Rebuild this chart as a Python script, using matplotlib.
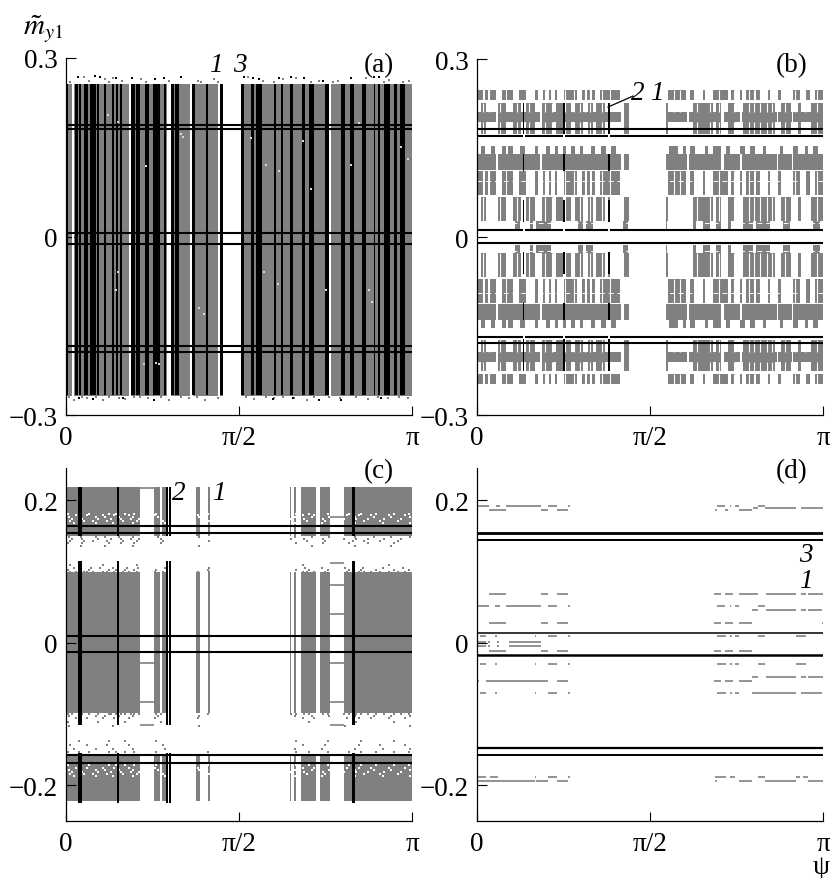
import numpy as np
import matplotlib
matplotlib.use("Agg")
from matplotlib import pyplot as plt

plt.rcParams["font.family"] = ["Liberation Serif", "DejaVu Serif"]
plt.rcParams["mathtext.fontset"] = "stix"

GRAY = "#808080"
FS = 19.5
STEP = np.pi / 1038

# panel (a)
a_gray = [(0, 472), (525, 1038)]
a_white = [(18, 25), (188, 195), (303, 315), (373, 380), (455, 463), (788, 796)]
a_black = [(0, 7), (28, 35), (40, 45), (54, 67), (71, 89), (94, 99), (113, 119), (138, 143),
           (149, 155), (163, 169), (195, 207), (211, 223), (236, 248), (262, 281), (294, 300),
           (316, 323), (328, 340), (379, 387), (419, 427), (463, 472), (525, 533), (555, 563),
           (570, 589), (623, 631), (645, 651), (673, 680), (708, 718), (728, 743), (778, 790),
           (825, 838), (853, 863), (889, 901), (923, 928), (936, 941), (953, 971), (983, 993),
           (1003, 1017)]
a_lines = [0.188, 0.180, 0.0067, -0.0123, -0.184, -0.194]
a_top_black = [35, 86, 101, 150, 198, 266, 295, 345, 535, 560, 580, 640, 675, 715, 770, 855, 925, 940]
a_top_black_y = [0.268, 0.269, 0.268, 0.266, 0.267, 0.264, 0.266, 0.268, 0.268, 0.266, 0.265,
                 0.266, 0.268, 0.266, 0.262, 0.266, 0.268, 0.268]
a_top_gray = [12, 55, 70, 118, 128, 140, 168, 225, 240, 310, 345, 395, 405, 445, 455, 545, 590,
              625, 650, 690, 735, 760, 800, 815, 900, 955, 970, 1010, 1030]
a_top_gray_y = [0.259, 0.268, 0.261, 0.264, 0.260, 0.266, 0.262, 0.264, 0.259, 0.262, 0.268, 0.261,
                0.259, 0.264, 0.260, 0.268, 0.262, 0.260, 0.264, 0.266, 0.260, 0.262, 0.259, 0.261,
                0.266, 0.260, 0.263, 0.259, 0.262]
a_bot_gray = [8, 25, 48, 62, 90, 112, 130, 158, 176, 205, 222, 245, 285, 310, 345, 370, 392, 418,
              455, 540, 565, 600, 625, 650, 685, 722, 745, 790, 822, 870, 905, 935, 965, 1000, 1025]
a_bot_gray_y = [-0.270, -0.274, -0.269, -0.272, -0.270, -0.275, -0.269, -0.271, -0.273, -0.270,
                -0.269, -0.272, -0.270, -0.274, -0.269, -0.271, -0.270, -0.274, -0.272, -0.269,
                -0.273, -0.270, -0.272, -0.269, -0.271, -0.274, -0.270, -0.269, -0.272, -0.270,
                -0.273, -0.269, -0.271, -0.270, -0.272]
a_bot_black = [40, 80, 170, 265, 620, 680, 760, 825, 945]
a_bot_black_y = [-0.272, -0.273, -0.272, -0.275, -0.273, -0.272, -0.274, -0.275, -0.272]
a_speck_x = [155, 155, 125, 240, 345, 350, 555, 600, 640, 710, 735, 855, 880, 1005, 1025,
             155, 150, 400, 415, 595, 635, 780, 910, 918, 235, 270, 280]
a_speck_y = [0.180, 0.192, 0.205, 0.118, 0.172, 0.168, 0.165, 0.120, 0.110, 0.160, 0.080, 0.120, 0.190,
             0.150, 0.130, -0.060, -0.090, -0.120, -0.130, -0.060, -0.080, -0.090, -0.090, -0.110,
             -0.215, -0.212, -0.214]

# panel (b), upper half is mirrored for the lower one
b_core = [(0, 56), (63, 188), (196, 433), (440, 455), (568, 631), (636, 733), (740, 788),
          (796, 900), (903, 946), (948, 1038)]
b_comb1 = [(0, 18), (23, 33), (38, 56), (76, 86), (90, 108), (126, 146), (173, 183), (198, 206),
           (216, 223), (233, 240), (260, 300), (316, 323), (330, 338), (346, 354), (368, 398),
           (403, 428), (573, 628), (638, 650), (678, 685), (708, 716), (718, 753), (763, 773),
           (788, 796), (808, 833), (838, 848), (873, 880), (903, 913), (948, 968), (988, 998),
           (1013, 1038)]
b_comb2 = [(13, 28), (63, 88), (108, 133), (148, 173), (196, 228), (238, 258), (268, 283),
           (293, 318), (333, 348), (358, 383), (393, 398), (440, 455), (568, 573), (648, 708),
           (718, 733), (753, 773), (798, 893), (913, 943), (963, 973), (1003, 1038)]
b_comb3 = [(13, 23), (43, 53), (76, 86), (93, 108), (128, 143), (173, 183), (208, 218), (233, 243),
           (258, 268), (283, 293), (308, 318), (343, 353), (373, 388), (403, 418), (576, 603),
           (618, 628), (638, 653), (683, 693), (708, 733), (748, 758), (788, 803), (818, 833),
           (858, 868), (908, 918), (948, 963), (983, 993), (1008, 1023)]
b_sparse = [(113, 128), (158, 168), (178, 223), (303, 318), (328, 348), (438, 453), (568, 571),
            (648, 658), (678, 698), (718, 733), (753, 763), (798, 828), (838, 878), (918, 938),
            (1008, 1028)]
b_rows = [(0.231, 0.248, b_comb1), (0.174, 0.226, b_comb2), (0.194, 0.211, b_core),
          (0.113, 0.140, b_core), (0.140, 0.154, b_comb3), (0.071, 0.112, b_comb1),
          (0.027, 0.067, b_comb2), (0.014, 0.027, b_sparse)]
b_cut_rows = [(0.231, 0.248), (0.211, 0.226), (0.174, 0.194), (0.071, 0.112), (0.027, 0.067)]
b_cuts = [17, 36, 70, 120, 155, 205, 225, 265, 290, 310, 325, 340, 375, 590, 610, 660, 700, 725,
          770, 815, 830, 850, 870, 885, 925, 955, 985, 1020]
b_black = [(137, 142), (259, 264), (392, 398)]
b_black_y = [(0.172, 0.226), (0.111, 0.140), (0.026, 0.063)]
b_lines = [0.1815, 0.170, 0.011, -0.010, -0.169, -0.179]
b_white_y = [0.095, -0.095, 0.024, -0.024]

# panel (c)
c_gray = [(0, 223), (263, 281), (287, 300), (391, 403), (425, 433), (671, 675), (683, 691),
          (705, 751), (763, 791), (833, 1038)]
c_solid_y = [(0.181, 0.219), (0.150, 0.181), (-0.099, 0.099), (-0.170, -0.158), (-0.222, -0.170)]
c_rung_a = (223, 263)
c_rung_a_y = [0.2175, -0.028, -0.083, -0.115]
c_rung_b = (791, 833)
c_rung_b_y = [0.177, 0.112, 0.082, 0.040, -0.028, -0.083, -0.115]
c_black = [(37, 48), (153, 159), (300, 306), (310, 315), (859, 866)]
c_black_y = [(0.150, 0.219), (-0.115, 0.115), (-0.225, -0.155)]
c_lines = [0.164, 0.155, 0.0103, -0.0131, -0.158, -0.168]
c_specks1 = [5, 18, 40, 48, 70, 95, 128, 135, 150, 165, 178, 195, 205, 220, 270, 285, 425, 675, 690,
             715, 730, 770, 785, 835, 850, 870, 885, 905, 930, 955, 985, 1005, 1030]
c_specks2 = [12, 30, 55, 62, 82, 110, 122, 145, 172, 188, 212, 268, 292, 395, 430, 710, 722, 745, 778,
             842, 860, 878, 895, 915, 942, 968, 995, 1018]
c_specks3 = [8, 24, 45, 75, 90, 102, 118, 140, 160, 183, 200, 216, 275, 298, 398, 428, 688, 718, 738,
             768, 788, 838, 868, 890, 925, 950, 975, 1012, 1033]
c_gray_rows = [(0.149, c_specks3[::2]), (0.146, c_specks1[1::2]), (0.143, c_specks2[::2]),
               (0.140, c_specks1[::3]), (0.136, c_specks3[2::4]), (0.0995, c_specks2),
               (0.102, c_specks1[::2]), (0.105, c_specks3[1::2]), (0.109, c_specks2[::5]),
               (-0.100, c_specks1), (-0.103, c_specks3[::2]), (-0.106, c_specks2[1::2]),
               (-0.111, c_specks1[::5]), (-0.116, c_specks3[::7]), (-0.157, c_specks2),
               (-0.153, c_specks1[::2]), (-0.149, c_specks3[1::3]), (-0.144, c_specks2[::3]),
               (-0.138, c_specks1[2::4])]
c_white_rows = [(0.181, c_specks1[::2]), (0.179, c_specks2[1::2]), (0.177, c_specks3[::2]),
                (0.174, c_specks1[1::2]), (0.171, c_specks2[::2]), (0.168, c_specks3[1::3]),
                (-0.172, c_specks1[::2]), (-0.175, c_specks2[1::2]), (-0.178, c_specks3[::2]),
                (-0.181, c_specks1[1::2]), (-0.184, c_specks2[::2]), (-0.187, c_specks3[1::3])]

# panel (d)
d_rows = [
    (0.192, [(0, 35), (56, 68), (86, 193), (213, 240), (273, 278), (720, 743), (758, 763), (773, 786), (843, 863)]),
    (0.186, [(35, 86), (193, 213), (240, 273), (713, 720), (743, 753), (786, 826)]),
    (0.190, [(828, 843), (863, 958), (973, 993), (993, 1038)]),
    (0.0683, [(35, 86), (193, 213), (240, 273), (711, 733), (743, 768), (786, 843), (868, 958), (973, 988), (993, 1038)]),
    (0.052, [(0, 35), (53, 68), (86, 193), (213, 240), (273, 278), (720, 743), (758, 763), (773, 786), (843, 863)]),
    (0.0463, [(826, 843), (868, 958), (973, 988), (993, 1035)]),
    (0.0276, [(35, 86), (193, 213), (240, 273), (711, 733), (743, 768), (786, 826), (1035, 1038)]),
    (0.0098, [(8, 26), (53, 61), (173, 178), (213, 240), (273, 278), (720, 746), (758, 765), (773, 786), (843, 863), (958, 988)]),
    (0.0014, [(0, 26), (33, 40), (60, 66), (96, 193)]),
    (-0.004, [(0, 26), (33, 40), (60, 66), (96, 193)]),
    (-0.0117, [(35, 86), (193, 213), (240, 273), (711, 733), (743, 768), (786, 826)]),
    (-0.0295, [(8, 26), (53, 61), (173, 178), (213, 240), (273, 278), (720, 746), (758, 765), (773, 786), (843, 863), (958, 988)]),
    (-0.0529, [(0, 6), (26, 213), (240, 273), (711, 733), (743, 768), (786, 826)]),
    (-0.048, [(826, 843), (868, 958), (973, 988), (993, 1038)]),
    (-0.0706, [(8, 26), (53, 61), (173, 178), (213, 240), (273, 278), (720, 746), (758, 765), (773, 786), (826, 958), (973, 1035)]),
    (-0.1876, [(0, 26), (38, 63), (173, 178), (213, 240), (273, 278), (713, 748), (758, 773), (843, 863), (958, 968), (978, 993)]),
    (-0.194, [(0, 173), (178, 213), (240, 273), (713, 720), (786, 826), (863, 958), (993, 1038)]),
]
d_lines = [0.154, 0.145, 0.0136, -0.0168, -0.147, -0.157]
d_line_widths = [2.0, 1.4, 1.1, 1.8, 1.6, 1.4]

W, H = 830, 879
fig = plt.figure(figsize=(W / 100, H / 100), dpi=100)


def make_axes(left, top, right, bottom, ylim, yticks, ylabels):
    ax = fig.add_axes([left / W, 1 - bottom / H, (right - left) / W, (bottom - top) / H])
    ax.set_xlim(0, np.pi)
    ax.set_ylim(*ylim)
    ax.spines["top"].set_visible(False)
    ax.spines["right"].set_visible(False)
    for s in ["left", "bottom"]:
        ax.spines[s].set_linewidth(0.9)
        ax.spines[s].set_zorder(10)
    ax.set_xticks([0, np.pi / 2, np.pi])
    ax.set_xticklabels(["0", "π/2", "π"], fontsize=FS)
    ax.set_yticks(yticks)
    ax.set_yticklabels(ylabels, fontsize=FS)
    ax.tick_params(axis="x", direction="in", length=6.5, width=0.8, pad=7)
    ax.tick_params(axis="y", direction="in", length=7, width=0.8, pad=6)
    return ax


def bands(ax, spans, y0, y1, color, z=1):
    for s in spans:
        ax.fill_between([s[0] * STEP, s[1] * STEP], y0, y1, color=color, lw=0, zorder=z)


def lines(ax, ys, widths=None):
    for i, y in enumerate(ys):
        lw = 1.5 if widths is None else widths[i]
        ax.axhline(y, color="k", lw=lw, zorder=6)


def dots(ax, xs, ys, color, size=1.6, z=5):
    ax.plot(np.array(xs) * STEP, ys, ls="", marker="s", ms=size, mew=0, color=color, zorder=z)


# (a)
ax = make_axes(66, 59, 412, 416, (-0.3, 0.3), [-0.3, 0, 0.3], ["\u22120.3", "0", "0.3"])
bands(ax, a_gray, -0.268, 0.256, GRAY)
bands(ax, a_white, -0.268, 0.256, "white", 2)
bands(ax, a_black, -0.266, 0.256, "k", 3)
lines(ax, a_lines)
dots(ax, a_top_gray, a_top_gray_y, GRAY)
dots(ax, a_top_black, a_top_black_y, "k")
dots(ax, a_bot_gray, a_bot_gray_y, GRAY)
dots(ax, a_bot_black, a_bot_black_y, "k")
dots(ax, a_speck_x, a_speck_y, "#d8d8d8", 1.5)

# (b)
ax = make_axes(477, 60, 823, 416, (-0.3, 0.3), [-0.3, 0, 0.3], ["\u22120.3", "0", "0.3"])
for y0, y1, spans in b_rows:
    bands(ax, spans, y0, y1, GRAY)
    bands(ax, spans, -y1, -y0, GRAY)
for y0, y1 in b_cut_rows:
    for x in b_cuts:
        ax.vlines(x * STEP, y0, y1, color="white", lw=0.8, zorder=2)
        ax.vlines(x * STEP, -y1, -y0, color="white", lw=0.8, zorder=2)
for y in b_white_y:
    ax.axhline(y, color="white", lw=0.7, ls=(0, (5, 4)), zorder=2)
for y0, y1 in b_black_y:
    bands(ax, b_black, y0, y1, "k", 3)
    bands(ax, b_black, -y1, -y0, "k", 3)
lines(ax, b_lines)
for x0, x1 in b_black:
    for y in [0.170, 0.011, -0.169]:
        ax.plot([(x0 + x1) / 2 * STEP] * 2, [y - 0.002, y + 0.002], color="white", lw=1.4, zorder=7)
ax.plot([0.3786 * np.pi, 0.451 * np.pi], [0.219, 0.2376], color="k", lw=0.9, zorder=8)

# (c)
ylim_cd = (-0.25, 0.2456)
ax = make_axes(66, 469, 412, 822, ylim_cd, [-0.2, 0, 0.2], ["\u22120.2", "0", "0.2"])
for y0, y1 in c_solid_y:
    bands(ax, c_gray, y0, y1, GRAY)
for y, xs in c_gray_rows:
    dots(ax, xs, np.full(len(xs), y), GRAY, 1.5, 2)
for y, xs in c_white_rows:
    dots(ax, xs, np.full(len(xs), y), "white", 1.5, 2)
for y in c_rung_a_y:
    ax.hlines(y, c_rung_a[0] * STEP, c_rung_a[1] * STEP, color=GRAY, lw=1.2, zorder=2)
for y in c_rung_b_y:
    ax.hlines(y, c_rung_b[0] * STEP, c_rung_b[1] * STEP, color=GRAY, lw=1.2, zorder=2)
for y0, y1 in c_black_y:
    bands(ax, c_black, y0, y1, "k", 3)
lines(ax, c_lines)

# (d)
ax = make_axes(477, 469, 823, 822, ylim_cd, [-0.2, 0, 0.2], ["\u22120.2", "0", "0.2"])
for y, spans in d_rows:
    for x0, x1 in spans:
        ax.hlines(y, x0 * STEP, x1 * STEP, color=GRAY, lw=1.2, zorder=2)
lines(ax, d_lines, d_line_widths)


# texts, pixel positions of the page
def label(x, y, s, italic=False, size=FS):
    fig.text(x / W, 1 - y / H, s, fontsize=size, ha="center", va="center",
             style="italic" if italic else "normal")


label(379, 66, "(a)")
label(792, 66, "(b)")
label(379, 472, "(c)")
label(792, 472, "(d)")
label(216, 66, "1", True)
label(240, 66, "3", True)
label(638, 94, "2", True)
label(657, 94, "1", True)
label(179, 493, "2", True)
label(219, 493, "1", True)
label(806, 556, "3", True)
label(806, 581, "1", True)
label(821, 868, "ψ")
label(43, 29, r"$\tilde{m}_{y1}$", size=21)

fig.savefig("out.png", dpi=100)
